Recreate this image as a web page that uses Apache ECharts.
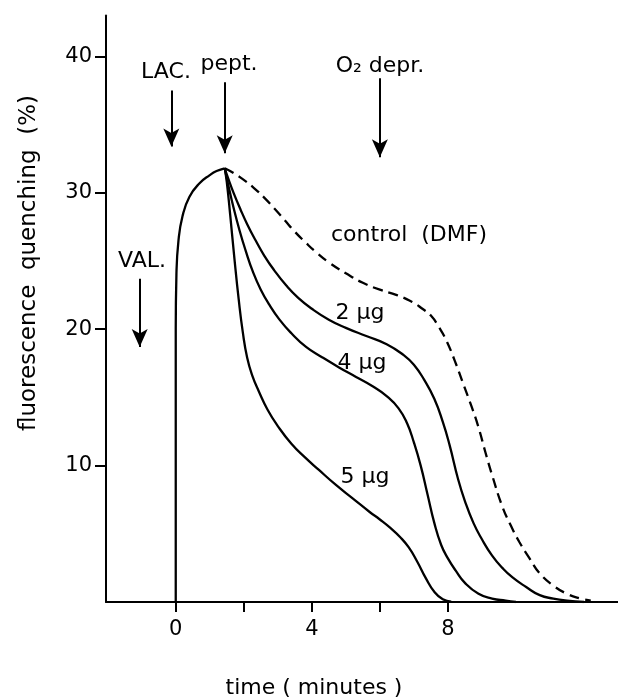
<!DOCTYPE html>
<html>
<head>
<meta charset="utf-8">
<title>fluorescence quenching</title>
<script src="https://cdn.jsdelivr.net/npm/echarts@6/dist/echarts.min.js"></script>
<style>
    html, body { margin: 0; padding: 0; background: #fff; }
    #chart { width: 618px; height: 700px; }
</style>
</head>
<body>
<div id="chart"></div>
<script>
// time in minutes, quenching in %
var riseTime = [0, 0, 0.02, 0.08, 0.2, 0.4, 0.7, 1.0, 1.2, 1.44];
var riseVal = [0, 20, 24, 26.5, 28.3, 29.7, 30.7, 31.3, 31.6, 31.8];

var controlTime = [1.44, 1.7, 2.0, 2.3, 2.6, 2.9, 3.2, 3.5, 3.8, 4.1, 4.5, 5.0, 5.5, 6.0, 6.5, 6.95, 7.25, 7.5, 7.75, 7.95, 8.2, 8.45, 8.7, 8.9, 9.1, 9.3, 9.6, 9.85, 10.1, 10.4, 10.7, 11.1, 11.5, 11.9, 12.2];
var controlVal = [31.8, 31.45, 30.95, 30.35, 29.65, 28.85, 28.0, 27.15, 26.4, 25.7, 24.9, 24.1, 23.4, 22.9, 22.5, 22.0, 21.5, 21.0, 20.1, 19.2, 17.7, 16.0, 14.3, 12.8, 11.0, 9.3, 7.0, 5.6, 4.4, 3.2, 2.1, 1.2, 0.6, 0.25, 0.1];

var ug2Time = [1.44, 1.55, 1.7, 1.9, 2.1, 2.35, 2.6, 2.9, 3.25, 3.6, 4.0, 4.5, 5.0, 5.6, 6.2, 6.7, 7.0, 7.3, 7.6, 7.85, 8.05, 8.3, 8.5, 8.75, 9.0, 9.3, 9.6, 9.9, 10.3, 10.7, 11.1, 11.5, 12.0];
var ug2Val = [31.8, 31.0, 30.0, 28.8, 27.7, 26.5, 25.4, 24.3, 23.2, 22.3, 21.5, 20.7, 20.1, 19.5, 18.9, 18.1, 17.4, 16.3, 14.9, 13.2, 11.5, 9.0, 7.4, 5.8, 4.6, 3.4, 2.5, 1.8, 1.1, 0.5, 0.25, 0.1, 0];

var ug4Time = [1.44, 1.55, 1.7, 1.88, 2.05, 2.27, 2.5, 2.75, 3.05, 3.4, 3.83, 4.3, 4.8, 5.3, 5.8, 6.2, 6.55, 6.8, 7.0, 7.2, 7.4, 7.6, 7.8, 8.0, 8.23, 8.5, 8.9, 9.3, 9.7, 10.0];
var ug4Val = [31.8, 30.5, 28.9, 27.2, 25.8, 24.2, 22.9, 21.8, 20.7, 19.7, 18.7, 17.95, 17.2, 16.5, 15.8, 15.1, 14.2, 13.1, 11.7, 10.0, 7.9, 5.8, 4.2, 3.2, 2.3, 1.4, 0.6, 0.25, 0.1, 0];

var ug5Time = [1.44, 1.5, 1.6, 1.72, 1.85, 1.97, 2.1, 2.25, 2.45, 2.7, 3.0, 3.4, 3.8, 4.2, 4.7, 5.2, 5.7, 6.0, 6.3, 6.6, 6.85, 7.1, 7.35, 7.6, 7.85, 8.1];
var ug5Val = [31.8, 30.8, 28.4, 25.3, 22.2, 19.8, 17.9, 16.6, 15.4, 14.1, 12.9, 11.6, 10.6, 9.7, 8.6, 7.6, 6.6, 6.05, 5.45, 4.75, 4.0, 2.95, 1.75, 0.75, 0.2, 0.03];

var xTicks = [0, 2, 4, 6, 8];
var xLabels = [0, 4, 8];
var yTicks = [10, 20, 30, 40];

// arrows: [time, from, to]
var arrowVAL = [-1.06, 23.7, 18.7];
var arrowLAC = [-0.13, 37.5, 33.4];
var arrowPept = [1.44, 38.1, 32.9];
var arrowO2 = [6.0, 38.4, 32.6];

function pairs(xs, ys) {
    var out = [];
    for (var i = 0; i < xs.length; i++) {
        out.push([xs[i], ys[i]]);
    }
    return out;
}

function arrow(a) {
    return [{ coord: [a[0], a[1]] }, { coord: [a[0], a[2]] }];
}

var font = 'DejaVu Sans';
var lineStyle = { color: '#000', width: 2 };

function curve(name, xs, ys, dashed) {
    return {
        name: name,
        type: 'line',
        data: pairs(xs, ys),
        showSymbol: false,
        smooth: 0.5,
        lineStyle: { color: '#000', width: 2.3, type: dashed ? [10, 6] : 'solid' },
        silent: true
    };
}

function label(text, x, y, rot, size) {
    return {
        type: 'text',
        x: x,
        y: y,
        rotation: rot || 0,
        style: {
            text: text,
            fontSize: size || 22,
            fontFamily: font,
            fill: '#000',
            align: 'center',
            verticalAlign: 'middle'
        }
    };
}

var chart = echarts.init(document.getElementById('chart'));

var rise = curve('rise', riseTime, riseVal, false);
rise.markLine = {
    silent: true,
    symbol: ['none', 'arrow'],
    symbolSize: [12, 18],
    label: { show: false },
    lineStyle: { color: '#000', width: 2, type: 'solid' },
    data: [arrow(arrowVAL), arrow(arrowLAC), arrow(arrowPept), arrow(arrowO2)]
};

var option = {
    animation: false,
    backgroundColor: '#fff',
    grid: { left: 106, right: 0, top: 15.5, bottom: 98 },
    xAxis: {
        type: 'value',
        min: -2.05,
        max: 13,
        splitLine: { show: false },
        axisLine: { onZero: false, lineStyle: lineStyle },
        axisTick: { customValues: xTicks, length: 10, lineStyle: lineStyle },
        axisLabel: { customValues: xLabels, margin: 17, color: '#000', fontSize: 21, fontFamily: font }
    },
    yAxis: {
        type: 'value',
        min: 0,
        max: 43,
        splitLine: { show: false },
        axisLine: { show: true, onZero: false, lineStyle: lineStyle },
        axisTick: { show: true, customValues: yTicks, length: 11, lineStyle: lineStyle },
        axisLabel: { customValues: yTicks, margin: 14, color: '#000', fontSize: 21, fontFamily: font }
    },
    series: [
        rise,
        curve('control (DMF)', controlTime, controlVal, true),
        curve('2 µg', ug2Time, ug2Val, false),
        curve('4 µg', ug4Time, ug4Val, false),
        curve('5 µg', ug5Time, ug5Val, false)
    ],
    graphic: [
        label('fluorescence  quenching  (%)', 29, 263, Math.PI / 2, 23),
        label('time ( minutes )', 314, 688),
        label('VAL.', 142, 261),
        label('LAC.', 166, 72),
        label('pept.', 229, 64),
        label('O₂ depr.', 380, 66),
        label('control  (DMF)', 409, 235),
        label('2 µg', 360, 313),
        label('4 µg', 362, 363),
        label('5 µg', 365, 477)
    ]
};

chart.setOption(option);
</script>
</body>
</html>
